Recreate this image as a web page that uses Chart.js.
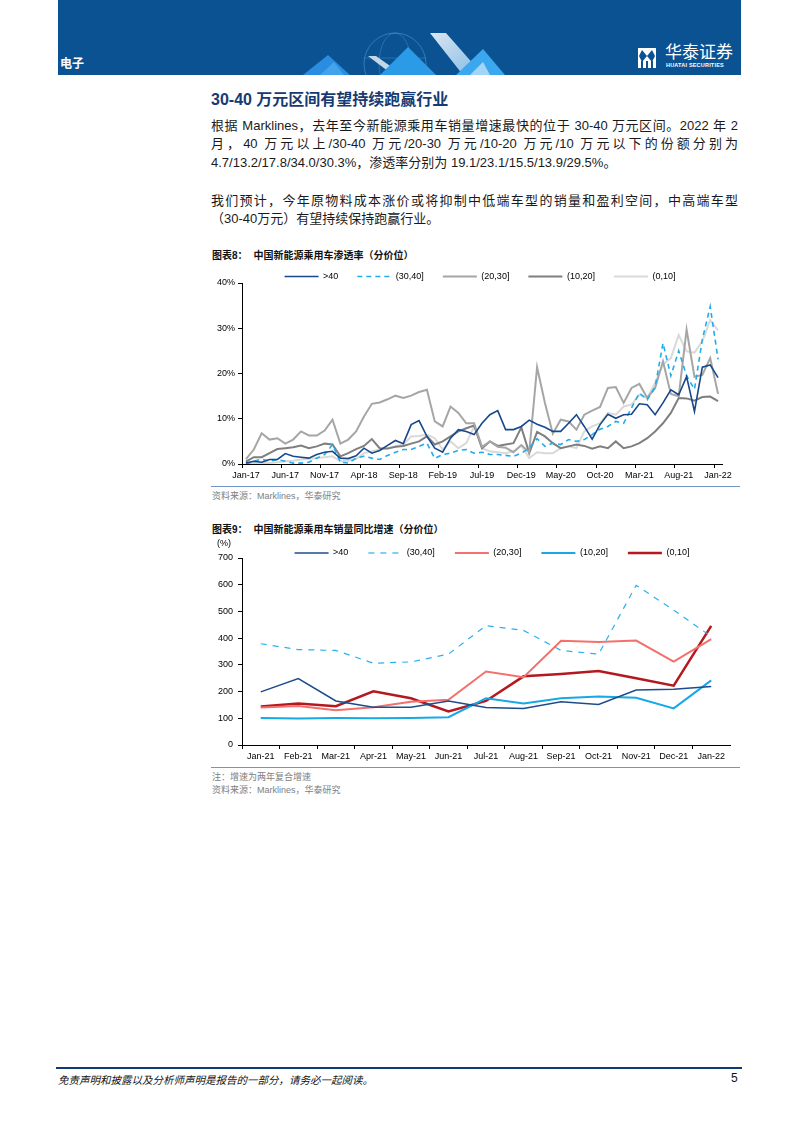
<!DOCTYPE html>
<html>
<head>
<meta charset="utf-8">
<script src="https://cdn.jsdelivr.net/npm/chart.js@4.4.1/dist/chart.umd.min.js"></script>
<style>
body { margin: 0; background: #fff; }
#page { position: relative; width: 794px; height: 1123px; overflow: hidden; background: #fff;
  font-family: "Liberation Sans", "Noto Sans CJK SC", sans-serif; color: #1a1a1a; }
.abs { position: absolute; white-space: nowrap; }
#banner { position: absolute; left: 58px; top: 0; width: 683px; height: 75px; background: #0b5293; overflow: hidden; }
.line { position: absolute; left: 211px; width: 527px; font-size: 13px; line-height: 19px; height: 19px; }
.just { text-align: justify; text-align-last: justify; }
.ctitle { font-size: 10px; font-weight: bold; color: #111; }
.src { font-size: 9px; color: #808080; }
.rule { position: absolute; left: 211px; width: 529px; height: 1px; background: #7594c9; }
canvas { position: absolute; }
</style>
</head>
<body>
<div id="page">
  <div id="banner">
    <svg width="683" height="75" style="position:absolute;left:0;top:0">
      <defs>
        <linearGradient id="gw" x1="0" y1="0" x2="1" y2="1">
          <stop offset="0" stop-color="#f2f6fb"/>
          <stop offset="1" stop-color="#8fc6ee"/>
        </linearGradient>
      </defs>
      <circle cx="337" cy="64" r="31" fill="none" stroke="#7cc6f2" stroke-opacity="0.35"/>
      <ellipse cx="337" cy="64" rx="16" ry="31" fill="none" stroke="#7cc6f2" stroke-opacity="0.25"/>
      <line x1="306" y1="58" x2="368" y2="58" stroke="#7cc6f2" stroke-opacity="0.25"/>
      <polygon points="245,75 270,55 292,75" fill="#2a8de0"/>
      <polygon points="262,75 276,62 286,75" fill="#4aa9ee" opacity="0.8"/>
      <polygon points="310,56 318,56 345,75 335,75" fill="#d6e4f0" opacity="0.9"/>
      <polygon points="322,75 350,47 378,75" fill="#2b9be8"/>
      <polygon points="372,33 388,33 425,75 405,75" fill="url(#gw)" opacity="0.9"/>
      <polygon points="398,75 425,49 447,75" fill="#3aa7ee"/>
      <polygon points="412,75 425,62 432,75" fill="#bfe0f7" opacity="0.8"/>
    </svg>
    <div class="abs" style="left:2px;top:54px;font-size:12px;font-weight:bold;color:#fff;font-family:'Noto Sans CJK SC'">电子</div>
    <svg width="18" height="20" style="position:absolute;left:580px;top:48px">
      <rect x="0" y="0" width="18" height="20" fill="#fff"/>
      <polygon points="4,2 9,8 4,14 1,8" fill="#0b5293"/>
      <polygon points="14,2 17,8 14,14 9,8" fill="#0b5293"/>
      <rect x="3" y="13" width="2" height="7" fill="#0b5293"/>
      <rect x="8" y="13" width="2" height="7" fill="#0b5293"/>
      <rect x="13" y="13" width="2" height="7" fill="#0b5293"/>
    </svg>
    <div class="abs" style="left:607px;top:41px;font-size:17px;line-height:20px;color:#fff;font-family:'Noto Sans CJK SC'">华泰证券</div>
    <div class="abs" style="left:608px;top:62px;font-size:5.5px;line-height:7px;color:#fff;font-weight:bold;letter-spacing:0.2px">HUATAI SECURITIES</div>
  </div>

  <div class="abs" style="left:211px;top:90px;font-size:16px;line-height:20px;font-weight:bold;color:#163a72">30-40 万元区间有望持续跑赢行业</div>
  <div class="line just" style="top:116px">根据 Marklines，去年至今新能源乘用车销量增速最快的位于 30-40 万元区间。2022 年 2</div>
  <div class="line just" style="top:134px">月，40 万元以上/30-40 万元/20-30 万元/10-20 万元/10 万元以下的份额分别为</div>
  <div class="line" style="top:153px">4.7/13.2/17.8/34.0/30.3%，渗透率分别为 19.1/23.1/15.5/13.9/29.5%。</div>
  <div class="line just" style="top:191px">我们预计，今年原物料成本涨价或将抑制中低端车型的销量和盈利空间，中高端车型</div>
  <div class="line" style="top:209px">（30-40万元）有望持续保持跑赢行业。</div>

  <div class="abs ctitle" style="left:212px;top:247px">图表8：<span style="margin-left:6px">中国新能源乘用车渗透率（分价位）</span></div>
  <canvas id="penChart" width="540" height="237" style="left:200px;top:245px"></canvas>
  <div class="rule" style="top:486px"></div>
  <div class="abs src" style="left:212px;top:489px">资料来源：Marklines，华泰研究</div>

  <div class="abs ctitle" style="left:212px;top:521px">图表9：<span style="margin-left:6px">中国新能源乘用车销量同比增速（分价位）</span></div>
  <canvas id="yoyChart" width="560" height="244" style="left:200px;top:519px"></canvas>
  <div class="rule" style="top:767px"></div>
  <div class="abs src" style="left:212px;top:770px">注：增速为两年复合增速</div>
  <div class="abs src" style="left:212px;top:783px">资料来源：Marklines，华泰研究</div>

  <div style="position:absolute;left:56px;top:1067px;width:686px;height:2px;background:#0d3b78"></div>
  <div class="abs" style="left:58px;top:1072px;font-size:10.5px;font-style:italic;color:#111">免责声明和披露以及分析师声明是报告的一部分，请务必一起阅读。</div>
  <div class="abs" style="left:731px;top:1071px;font-size:12px;color:#111">5</div>
</div>

<script>
// --- DATA: chart 8, penetration by price band (%), Jan-17 .. Jan-22 ---
const monthNames = ['Jan', 'Feb', 'Mar', 'Apr', 'May', 'Jun', 'Jul', 'Aug', 'Sep', 'Oct', 'Nov', 'Dec'];
const penMonths = [];
for (let y = 17; y <= 22; y++) {
    for (let m = 0; m < 12; m++) {
        if (y === 22 && m > 0) break;
        penMonths.push(monthNames[m] + '-' + y);
    }
}
const seriesNames = ['>40', '(30,40]', '(20,30]', '(10,20]', '(0,10]'];

const gt40Pen = [
    0.2, 0.6, 0.4, 1.0, 1.0, 2.3, 1.7, 1.5, 1.3, 2.1,
    2.6, 2.8, 1.3, 1.2, 1.8, 3.5, 2.4, 3.0, 4.1, 5.2,
    4.5, 8.7, 9.6, 6.1, 3.5, 2.6, 5.7, 7.6, 7.2, 6.5,
    9.0, 10.9, 11.8, 7.6, 7.6, 8.3, 9.7, 8.8, 8.1, 7.2,
    7.2, 9.0, 10.9, 8.3, 5.5, 8.7, 11.0, 10.1, 10.9, 11.0,
    13.3, 13.1, 10.9, 13.5, 16.4, 15.3, 19.3, 11.6, 21.4, 21.9,
    19.1
];
const p3040Pen = [
    0.0, 0.6, 1.1, 0.6, 1.0, 0.6, 0.2, 0.2, 0.4, 1.3,
    2.1, 4.3, 0.4, 0.2, 1.3, 1.7, 1.3, 1.0, 1.9, 2.6,
    3.2, 3.2, 3.9, 4.6, 1.2, 2.1, 2.4, 3.0, 3.2, 2.4,
    2.6, 2.1, 2.1, 1.9, 1.7, 2.4, 3.5, 5.6, 3.9, 4.6,
    4.3, 5.4, 5.0, 5.4, 6.5, 7.7, 8.3, 9.4, 9.0, 12.4,
    15.7, 14.2, 17.0, 26.7, 19.5, 25.0, 19.5, 16.5, 27.5, 34.8,
    23.1
];
const p2030Pen = [
    1.1, 3.2, 6.8, 5.4, 5.7, 4.5, 5.4, 7.2, 6.3, 6.3,
    7.4, 9.8, 4.5, 5.4, 7.2, 10.5, 13.3, 13.6, 14.3, 15.1,
    14.6, 15.1, 15.9, 16.4, 9.4, 8.3, 12.7, 11.3, 9.0, 9.0,
    3.8, 5.0, 3.8, 3.6, 2.6, 4.2, 2.6, 21.4, 13.5, 6.7,
    9.8, 9.4, 7.6, 10.9, 11.8, 12.6, 16.8, 17.0, 13.5, 16.8,
    17.7, 14.6, 16.8, 22.7, 15.5, 15.0, 29.7, 19.3, 19.7, 23.4,
    15.5
];
const p1020Pen = [
    0.5, 1.5, 1.5, 2.4, 3.3, 3.5, 3.7, 4.1, 3.5, 3.9,
    4.5, 4.3, 1.7, 2.4, 3.3, 4.0, 5.5, 3.5, 3.4, 3.8,
    4.0, 4.5, 5.0, 6.1, 4.3, 5.0, 6.1, 7.2, 7.9, 8.5,
    3.5, 5.0, 4.0, 4.3, 4.6, 8.1, 2.4, 7.1, 6.1, 4.6,
    3.5, 3.9, 4.3, 4.0, 3.4, 3.9, 3.5, 5.0, 3.5, 3.9,
    4.6, 5.7, 7.2, 9.0, 11.3, 14.6, 14.5, 14.0, 14.8, 14.9,
    13.9
];
const p010Pen = [
    0.0, 0.2, 0.2, 0.2, 0.4, 0.6, 0.7, 1.0, 1.1, 1.3,
    1.5, 1.7, 0.6, 0.7, 1.1, 2.4, 2.8, 3.2, 3.5, 3.9,
    4.3, 6.1, 6.2, 6.5, 5.7, 3.2, 5.0, 3.5, 4.6, 8.3,
    3.5, 2.8, 2.6, 2.4, 2.8, 4.1, 1.3, 2.6, 2.4, 2.4,
    3.5, 3.9, 3.5, 7.2, 8.3, 9.0, 11.3, 10.9, 12.7, 13.1,
    15.3, 14.6, 17.9, 22.0, 23.4, 28.5, 24.9, 24.6, 27.1, 31.8,
    29.5
];
const penTicks = [0, 10, 20, 30, 40];

// --- DATA: chart 9, YoY sales growth by price band (%), Jan-21 .. Jan-22 ---
const yoyMonths = ['Jan-21', 'Feb-21', 'Mar-21', 'Apr-21', 'May-21', 'Jun-21', 'Jul-21',
    'Aug-21', 'Sep-21', 'Oct-21', 'Nov-21', 'Dec-21', 'Jan-22'];
const gt40Yoy = [199, 249, 165, 141, 141, 165, 140, 137, 162, 152, 206, 209, 219];
const p3040Yoy = [379, 357, 354, 306, 311, 340, 447, 429, 354, 340, 598, 505, 406];
const p2030Yoy = [140, 146, 130, 141, 162, 169, 275, 254, 390, 386, 391, 312, 396];
const p1020Yoy = [101, 99, 101, 100, 101, 104, 175, 155, 175, 182, 177, 137, 242];
const p010Yoy = [144, 155, 145, 201, 175, 126, 165, 257, 266, 277, 250, 222, 446];
const yoyTicks = [0, 100, 200, 300, 400, 500, 600, 700];

// --- SHARED SETUP ---
Chart.defaults.font.family = "'Liberation Sans', Arial, sans-serif";
Chart.defaults.font.size = 9;
Chart.defaults.color = '#000';

// legend sits a little lower / sideways than Chart.js puts it
const legendShift = {
    id: 'legendShift',
    afterLayout(chart, args, opts) {
        const lg = chart.legend;
        if (!lg) return;
        lg.top += opts.dy || 0;
        lg.bottom += opts.dy || 0;
        lg.left += opts.dx || 0;
        lg.right += opts.dx || 0;
    }
};

const unitLabel = {
    id: 'unitLabel',
    afterDraw(chart, args, opts) {
        if (!opts.text) return;
        const { ctx, chartArea } = chart;
        ctx.save();
        ctx.font = "9px 'Liberation Sans', Arial, sans-serif";
        ctx.fillStyle = '#000';
        ctx.textAlign = 'center';
        ctx.textBaseline = 'middle';
        ctx.fillText(opts.text, chartArea.left - 18, chartArea.top - 14);
        ctx.restore();
    }
};

// legend samples take dash and width from the dataset line, not the point
function lineLegendLabels(chart) {
    const items = Chart.defaults.plugins.legend.labels.generateLabels(chart);
    items.forEach(item => {
        const ds = chart.data.datasets[item.datasetIndex];
        item.lineDash = ds.borderDash;
        item.lineWidth = ds.borderWidth;
        item.strokeStyle = ds.borderColor;
    });
    return items;
}

function lineSet(label, data, color, width, dash) {
    return {
        label: label,
        data: data,
        borderColor: color,
        backgroundColor: color,
        borderWidth: width,
        borderDash: dash || [],
        pointRadius: 0,
        pointHoverRadius: 0,
        tension: 0,
        fill: false
    };
}

function buildOptions(cfg) {
    return {
        responsive: false,
        animation: false,
        devicePixelRatio: 1,
        layout: { padding: { left: 0, right: cfg.padRight, top: 0, bottom: 0 } },
        plugins: {
            legend: {
                position: 'top',
                fullSize: false,
                labels: {
                    usePointStyle: true,
                    pointStyle: 'line',
                    pointStyleWidth: 34,
                    boxHeight: 9,
                    padding: cfg.legendPad,
                    color: '#000',
                    font: { size: 9 },
                    generateLabels: lineLegendLabels
                }
            },
            tooltip: { enabled: false },
            legendShift: { dy: cfg.legendDy, dx: cfg.legendDx },
            unitLabel: { text: cfg.unit || '' }
        },
        scales: {
            x: {
                type: 'category',
                offset: true,
                afterFit: s => { s.height = 18; },
                border: { display: true, color: '#000', width: 1 },
                grid: {
                    offset: true,
                    drawOnChartArea: false,
                    drawTicks: true,
                    tickLength: 4,
                    color: c => (c.index % cfg.xEvery === 0 ? '#000' : 'rgba(0,0,0,0)')
                },
                ticks: {
                    autoSkip: false,
                    maxRotation: 0,
                    padding: 2,
                    callback: (v, i) => (i % cfg.labelEvery === 0 ? cfg.labels[i] : '')
                }
            },
            y: {
                min: cfg.yTicks[0],
                max: cfg.yTicks[cfg.yTicks.length - 1],
                afterFit: s => { s.width = 42; },
                afterBuildTicks: s => { s.ticks = cfg.yTicks.map(v => ({ value: v })); },
                border: { display: true, color: '#000', width: 1 },
                grid: { drawOnChartArea: false, drawTicks: true, tickLength: 4, color: '#000' },
                ticks: { padding: cfg.yPad, callback: cfg.yFormat }
            }
        }
    };
}

// --- CHART 8: PENETRATION ---
new Chart(document.getElementById('penChart').getContext('2d'), {
    type: 'line',
    data: {
        labels: penMonths,
        datasets: [
            lineSet(seriesNames[0], gt40Pen, '#17488c', 1.6),
            lineSet(seriesNames[1], p3040Pen, '#22acea', 1.6, [5, 4]),
            lineSet(seriesNames[2], p2030Pen, '#a6a6a6', 2),
            lineSet(seriesNames[3], p1020Pen, '#7f7f7f', 2),
            lineSet(seriesNames[4], p010Pen, '#d9d9d9', 2)
        ]
    },
    options: buildOptions({
        padRight: 18, legendPad: 19, legendDy: 8, legendDx: -2,
        labels: penMonths, labelEvery: 5, xEvery: 5,
        yTicks: penTicks, yPad: 3, yFormat: v => v + '%'
    }),
    plugins: [legendShift, unitLabel]
});

// --- CHART 9: YOY GROWTH ---
new Chart(document.getElementById('yoyChart').getContext('2d'), {
    type: 'line',
    data: {
        labels: yoyMonths,
        datasets: [
            lineSet(seriesNames[0], gt40Yoy, '#1c4c8c', 1.5),
            lineSet(seriesNames[1], p3040Yoy, '#2cb0ec', 1.2, [6, 6]),
            lineSet(seriesNames[2], p2030Yoy, '#f3706d', 2),
            lineSet(seriesNames[3], p1020Yoy, '#17a8e6', 2),
            lineSet(seriesNames[4], p010Yoy, '#b3191e', 2.5)
        ]
    },
    options: buildOptions({
        padRight: 30, legendPad: 20, legendDy: 9.5, legendDx: 6,
        labels: yoyMonths, labelEvery: 1, xEvery: 1,
        yTicks: yoyTicks, yPad: 5, yFormat: v => v,
        unit: '(%)'
    }),
    plugins: [legendShift, unitLabel]
});
</script>
</body>
</html>
